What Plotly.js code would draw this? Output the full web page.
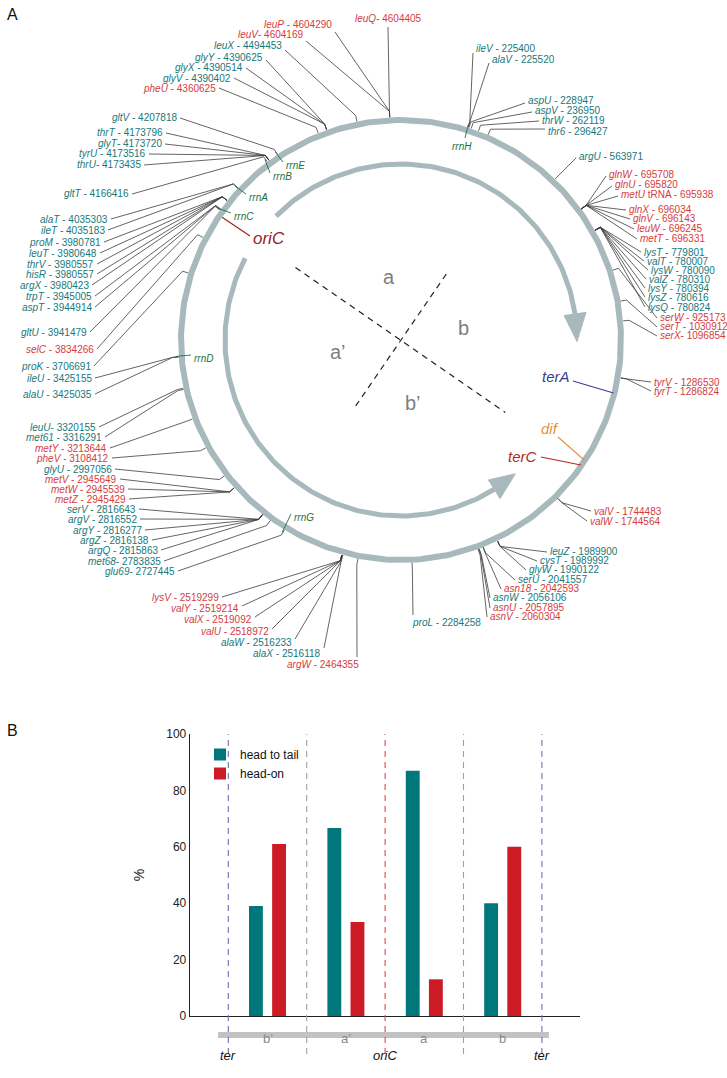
<!DOCTYPE html>
<html><head><meta charset="utf-8">
<script src="https://cdn.plot.ly/plotly-3.0.1.min.js"></script>
<style>html,body{margin:0;padding:0;background:#fff}</style>
</head><body><div id="chart" style="width:727px;height:1078px"></div>
<script>
// ---------------- DATA ----------------
const GENOME = 4641652;
const geneNames = ['leuQ','leuP','leuV','leuX','glyY','glyX','glyV','pheU',
 'ileV','alaV','aspU','aspV','thrW','thr6','argU',
 'glnW','glnU','metU','glnX','glnV','leuW','metT',
 'lysT','valT','lysW','valZ','lysY','lysZ','lysQ',
 'serW','serT','serX','tyrV','tyrT','valV','valW',
 'leuZ','cysT','glyW','serU','asn18','asnW','asnU','asnV','proL',
 'argW','alaX','alaW','valU','valX','valY','lysV',
 'glu69','met68','argQ','argZ','argY','argV','serV','metZ','metW','metV','glyU','pheV','metY','met61','leuU',
 'alaU','ileU','proK','selC','gltU','aspT','trpT','argX','hisR','thrV','leuT','proM','ileT','alaT',
 'gltT','thrU','tyrU','glyT','thrT','gltV'];
const genePositions = [4604405,4604290,4604169,4494453,4390625,4390514,4390402,4360625,
 225400,225520,228947,236950,262119,296427,563971,
 695708,695820,695938,696034,696143,696245,696331,
 779801,780007,780090,780310,780394,780616,780824,
 925173,1030912,1096854,1286530,1286824,1744483,1744564,
 1989900,1989992,1990122,2041557,2042593,2056106,2057895,2060304,2284258,
 2464355,2516118,2516233,2518972,2519092,2519214,2519299,
 2727445,2783835,2815863,2816138,2816277,2816552,2816643,2945429,2945539,2945649,2997056,3108412,3213644,3316291,3320155,
 3425035,3425155,3706691,3834266,3941479,3944914,3945005,3980423,3980557,3980557,3980648,3980781,4035183,4035303,
 4166416,4173435,4173516,4173720,4173796,4207818];
// T = teal (head to tail), H = red (head-on)
const geneClass = ['H','H','H','T','T','T','T','H',
 'T','T','T','T','T','T','T',
 'H','H','H','H','H','H','H',
 'T','T','T','T','T','T','T',
 'H','H','H','H','H','H','H',
 'T','T','T','T','H','T','H','H','T',
 'H','T','T','H','H','H','H',
 'T','T','T','T','T','T','T','H','H','H','T','H','H','T','T',
 'T','T','T','H','T','T','T','T','T','T','T','T','T','T',
 'T','T','T','T','T','T'];
const nameSuffix = {metU:' tRNA'};
const noSpaceDash = ['leuQ','leuV','glyT','thrU','leuU','met68','glu69','serX'];

const rrnNames = ['rrnH','rrnE','rrnB','rrnA','rrnC','rrnD','rrnG'];
const rrnPositions = [223771,4206170,4164682,4033554,3941808,3427221,2729616];

const siteNames = ['oriC','terA','dif','terC'];
const sitePositions = [3925744,1341000,1588773,1609000];

// Panel B
const regions = ['b\u2019','a\u2019','a','b'];
const boundaryLabels = ['ter','','oriC','','ter'];
const headToTail = [39,66.7,87,40];
const headOn = [61,33.3,13,60];

// ---------------- LAYOUT (label placement) ----------------
const labelX = [388,333,304,283,264,244,232,217,
 475,491,527,534,541,547,578,
 608,614,620,628,632,636,639,
 643,646,650,648,647,647,647,
 659,659,659,653,653,593,589,
 549,539,528,517,503,492,492,489,411,
 360,322,293,270,253,240,220,
 176,162,159,150,143,138,137,127,126,118,113,110,108,103,97,
 93,93,92,95,88,93,93,90,95,95,98,102,106,109,
 130,142,147,163,164,178];
const labelY = [18,24,34,45,57,67,78,88,
 48,59,100,110,120,131,156,
 174,184,194,209,218,228,238,
 252,261,270,279,288,297,307,
 317,326,335,382,391,511,521,
 551,560,569,579,588,597,607,616,622,
 664,653,642,631,619,608,597,
 571,561,550,540,530,519,509,499,489,479,469,458,448,437,427,
 394,378,366,349,332,307,296,285,274,264,253,242,230,219,
 193,164,153,143,132,117];
const labelSide = ['c','r','r','r','r','r','r','r',
 'l','l','l','l','l','l','l',
 'l','l','l','l','l','l','l',
 'l','l','l','l','l','l','l',
 'l','l','l','l','l','l','l',
 'l','l','l','l','l','l','l','l','lb',
 'rb','r','r','r','r','r','r',
 'r','r','r','r','r','r','r','r','r','r','r','r','r','r','r',
 'r','r','r','r','r','r','r','r','r','r','r','r','r','r',
 'r','r','r','r','r','r'];
const labelDY = [9,8,7,5,3,1,0,0,
 5,4,3,2,1,-2,2,
 2,2,2,1,1,1,1,
 0,0,0,0,0,0,0,
 1,1,1,0,0,0,0,
 1,1,1,1,1,1,1,1,0,
 0,-5,-3,-2,-2,-2,0,
 0,0,0,0,0,0,0,0,0,0,0,0,0,0,0,
 0,0,0,0,0,0,0,0,0,0,0,0,0,0,
 1,1,1,1,1,1];
// rrn label placement (left edge / centre y)
const rrnLabelX = [462,285,272,248,233,193,293];
const rrnLabelY = [146,165,176,197,216,358,517];

const CX = 401, CY = 340, R = 220, RIN = 176;
const TEAL = '#17787a', RED = '#d43c3c', GREEN = '#23703d';
const CIRC = '#a8b9bd';
const FONT = 'Liberation Sans, Arial, sans-serif';

function polarDeg(d, r){ const t = d*Math.PI/180; return [CX + r*Math.sin(t), CY - r*Math.cos(t)]; }
function posDeg(p){ return p/GENOME*360; }
function polar(p, r){ return polarDeg(posDeg(p), r); }

const traces = [];
const annotations = [];
const shapes = [];

// outer circle
(function(){
  const x=[],y=[];
  for(let d=0; d<=360; d+=1){ const p=polarDeg(d,R); x.push(p[0]); y.push(p[1]); }
  traces.push({type:'scatter',mode:'lines',x,y,xaxis:'x',yaxis:'y',line:{color:CIRC,width:6},hoverinfo:'skip',showlegend:false});
})();

// inner replication arrows
function arc(d0,d1,r){ const x=[],y=[]; const n=Math.ceil(Math.abs(d1-d0)); for(let i=0;i<=n;i++){ const d=d0+(d1-d0)*i/n; const p=polarDeg(d,r); x.push(p[0]); y.push(p[1]); } return [x,y]; }
const oriDeg = posDeg(sitePositions[0]);
const terCDeg = posDeg(sitePositions[3]);
[[oriDeg+10.3, 441.5, 450.5],[oriDeg-6.8, 148, 139.5]].forEach(a=>{
  const [x,y] = arc(a[0], a[1], RIN);
  traces.push({type:'scatter',mode:'lines',x,y,xaxis:'x',yaxis:'y',line:{color:CIRC,width:5},hoverinfo:'skip',showlegend:false});
  const b1 = polarDeg(a[1], RIN-11), b2 = polarDeg(a[1], RIN+11), tip = polarDeg(a[2], RIN);
  traces.push({type:'scatter',mode:'lines',x:[b1[0],tip[0],b2[0],b1[0]],y:[b1[1],tip[1],b2[1],b1[1]],fill:'toself',fillcolor:CIRC,line:{color:CIRC,width:1},xaxis:'x',yaxis:'y',hoverinfo:'skip',showlegend:false});
});

// dashed region dividers through the centre
[[oriDeg,128,terCDeg,127],[oriDeg+90,80,oriDeg-90,82]].forEach(l=>{
  const p0=polarDeg(l[0],l[1]), p1=polarDeg(l[2],l[3]);
  traces.push({type:'scatter',mode:'lines',x:[p0[0],p1[0]],y:[p0[1],p1[1]],xaxis:'x',yaxis:'y',line:{color:'#222',width:1.2,dash:'6px,5px'},hoverinfo:'skip',showlegend:false});
});
// region letters
const regionMid = [(terCDeg+oriDeg-90)/2, oriDeg-45, oriDeg+45-360, (oriDeg+90-360+terCDeg)/2];
regions.forEach((r,i)=>{
  const p = polarDeg(regionMid[i], 64);
  annotations.push({x:p[0],y:p[1],xref:'x',yref:'y',text:r,showarrow:false,font:{size:20,color:'#7e7e7e',family:'Liberation Sans Narrow, '+FONT}});
});

// gene leader lines and labels
const lx=[], ly=[];
geneNames.forEach((g,i)=>{
  const pos = genePositions[i];
  const p0 = polar(pos, R+3), p1 = polar(pos, R+9);
  const side = labelSide[i]; const tx = labelX[i], ty = labelY[i];
  let ex, ey, xanchor='left', yanchor='middle';
  if(side==='l'){ ex=tx-2; ey=ty+labelDY[i]; xanchor='left'; }
  else if(side==='r'){ ex=tx+2; ey=ty+labelDY[i]; xanchor='right'; }
  else if(side==='c'){ ex=tx; ey=ty+labelDY[i]; xanchor='center'; }
  else if(side==='lb'){ ex=tx+2; ey=ty-7; xanchor='left'; }
  else { ex=tx-3; ey=ty-7; xanchor='right'; }
  lx.push(p0[0],p1[0],ex,null); ly.push(p0[1],p1[1],ey,null);
  const sep = noSpaceDash.includes(g) ? '- ' : ' - ';
  const col = geneClass[i]==='T' ? TEAL : RED;
  annotations.push({x:tx,y:ty,xref:'x',yref:'y',xanchor,yanchor,showarrow:false,borderpad:0,
    text:'<i>'+g+'</i>'+(nameSuffix[g]||'')+sep+pos,font:{size:10,color:col,family:FONT}});
});
traces.push({type:'scatter',mode:'lines',x:lx,y:ly,xaxis:'x',yaxis:'y',line:{color:'#3c3c3c',width:0.8},connectgaps:false,hoverinfo:'skip',showlegend:false});

// rrn operons (ticks crossing the circle into the labels)
const rx=[], ry=[];
rrnNames.forEach((n,i)=>{
  const a = polar(rrnPositions[i], R+6);
  const tx = rrnLabelX[i], ty = rrnLabelY[i];
  const e = (n==='rrnH') ? [tx+3, ty-8] : [tx-2, ty-3];
  rx.push(a[0],e[0],null); ry.push(a[1],e[1],null);
  annotations.push({x:tx,y:ty,xref:'x',yref:'y',xanchor:(n==='rrnH'?'center':'left'),yanchor:'middle',showarrow:false,borderpad:0,
    text:'<i>'+n+'</i>',font:{size:10,color:GREEN,family:FONT}});
});
traces.push({type:'scatter',mode:'lines',x:rx,y:ry,xaxis:'x',yaxis:'y',line:{color:GREEN,width:0.9},connectgaps:false,hoverinfo:'skip',showlegend:false});

// replication sites
const siteColors = ['#9b1c1c','#3d3b8e','#e39135','#b3262a'];
const siteLabelX = [252,571,550,538];
const siteLabelY = [238,376,428,456];
const siteAnchor = ['left','right','center','right'];
const siteEnd = [[250,236],[573,381],[558,437],[541,457]];
sitePositions.forEach((p,i)=>{
  const a = polar(p, i===0 ? R-3 : R-1);
  traces.push({type:'scatter',mode:'lines',x:[a[0],siteEnd[i][0]],y:[a[1],siteEnd[i][1]],xaxis:'x',yaxis:'y',line:{color:siteColors[i],width:1.1},hoverinfo:'skip',showlegend:false});
  annotations.push({x:siteLabelX[i],y:siteLabelY[i],xref:'x',yref:'y',xanchor:siteAnchor[i],yanchor:'middle',showarrow:false,borderpad:0,
    text:'<i>'+siteNames[i]+'</i>',font:{size:i===0?17:15,color:siteColors[i],family:FONT}});
});

// panel letters
annotations.push({x:12,y:14,xref:'x',yref:'y',text:'A',showarrow:false,font:{size:16,color:'#111',family:FONT}});
annotations.push({x:12,y:730,xref:'x',yref:'y',text:'B',showarrow:false,font:{size:16,color:'#111',family:FONT}});

// ---------------- PANEL B ----------------
const PX0 = 228.3, PXU = 78.4;           // pixel of u=0, pixels per unit
const uMin = (190-PX0)/PXU, uMax = (580-PX0)/PXU;
const regionX = regions.map((r,i)=>i+0.5);
traces.push({type:'bar',x:regionX,y:headToTail,xaxis:'x2',yaxis:'y2',name:'head to tail',marker:{color:'#00777a'},hoverinfo:'skip'});
traces.push({type:'bar',x:regionX,y:headOn,xaxis:'x2',yaxis:'y2',name:'head-on',marker:{color:'#cc1b24'},hoverinfo:'skip'});

const yTopPaper = (1078-734)/1078, yBotPaper = (1078-1016)/1078;
const boundColors = ['#6c70ad','#a0a0a0','#e34848','#a0a0a0','#6c70ad'];
boundaryLabels.forEach((b,i)=>{
  shapes.push({type:'line',xref:'x2',yref:'paper',x0:i,x1:i,y0:(1078-1054)/1078,y1:yTopPaper,line:{color:boundColors[i],width:1.1,dash:'6px,5px'}});
  if(b) annotations.push({x:i,y:(1078-1065)/1078,xref:'x2',yref:'paper',text:'<i>'+b+'</i>',showarrow:false,font:{size:13,color:'#111',family:FONT}});
});
shapes.push({type:'line',xref:'x2',yref:'paper',x0:-0.13,x1:4.09,y0:(1078-1035)/1078,y1:(1078-1035)/1078,line:{color:'#c2c2c2',width:6},layer:'below'});
regions.forEach((r,i)=>{
  annotations.push({x:regionX[i],y:(1078-1048)/1078,xref:'x2',yref:'paper',text:r,showarrow:false,font:{size:13,color:'#8a8a8a',family:'Liberation Sans Narrow, '+FONT}});
});

const layout = {
  width:727,height:1078,margin:{l:0,r:0,t:0,b:0},paper_bgcolor:'#ffffff',plot_bgcolor:'rgba(0,0,0,0)',
  font:{family:FONT,color:'#111'},
  xaxis:{domain:[0,1],range:[0,727],visible:false,fixedrange:true},
  yaxis:{domain:[0,1],range:[1078,0],visible:false,fixedrange:true},
  xaxis2:{domain:[190/727,580/727],range:[uMin,uMax],anchor:'y2',showline:true,linecolor:'#222',linewidth:1.3,
    showticklabels:false,ticks:'',showgrid:false,zeroline:false,fixedrange:true},
  yaxis2:{domain:[yBotPaper,yTopPaper],range:[0,100],anchor:'x2',showline:true,linecolor:'#222',linewidth:1.3,
    tickvals:[0,20,40,60,80,100],ticks:'',showgrid:false,zeroline:false,tickfont:{size:12,color:'#222'},
    title:{text:'%',standoff:18,font:{size:14,color:'#222'}},fixedrange:true},
  barmode:'group',bargap:0.41,bargroupgap:0.4,
  showlegend:true,
  legend:{x:200/727,y:(1078-740)/1078,xanchor:'left',yanchor:'top',bgcolor:'rgba(0,0,0,0)',font:{size:12,color:'#111'},tracegroupgap:2},
  shapes, annotations
};
Plotly.newPlot('chart', traces, layout, {staticPlot:true,displayModeBar:false});
</script></body></html>
